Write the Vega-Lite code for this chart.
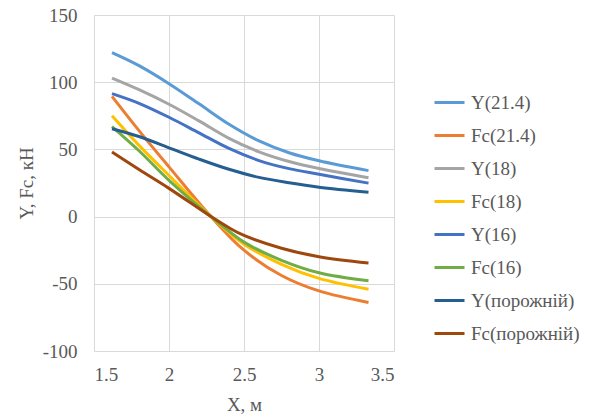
{
  "$schema": "https://vega.github.io/schema/vega-lite/v6.json",
  "width": 300,
  "height": 336,
  "autosize": {"type": "none"},
  "padding": {"left": 94, "top": 15, "right": 203, "bottom": 66},
  "background": "white",
  "config": {
    "view": {"stroke": null},
    "font": "'Liberation Serif', serif",
    "axis": {
      "domain": false,
      "ticks": false,
      "grid": true,
      "gridColor": "#d9d9d9",
      "gridWidth": 1,
      "labelFont": "'Liberation Serif', serif",
      "labelFontSize": 19,
      "labelColor": "#595959",
      "titleFont": "'Liberation Serif', serif",
      "titleFontSize": 19,
      "titleFontWeight": "normal",
      "titleColor": "#595959"
    },
    "legend": {
      "labelFont": "'Liberation Serif', serif",
      "labelFontSize": 19,
      "labelColor": "#595959"
    }
  },
  "data": {
    "values": [
      {"x": 1.62, "s": "Y(21.4)", "v": 122},
      {"x": 1.8, "s": "Y(21.4)", "v": 112.3},
      {"x": 2.0, "s": "Y(21.4)", "v": 98.9},
      {"x": 2.2, "s": "Y(21.4)", "v": 83.9},
      {"x": 2.4, "s": "Y(21.4)", "v": 68.7},
      {"x": 2.6, "s": "Y(21.4)", "v": 56.3},
      {"x": 2.8, "s": "Y(21.4)", "v": 47.5},
      {"x": 3.0, "s": "Y(21.4)", "v": 41.5},
      {"x": 3.33, "s": "Y(21.4)", "v": 34.2},

      {"x": 1.62, "s": "Fc(21.4)", "v": 89.5},
      {"x": 1.8, "s": "Fc(21.4)", "v": 64},
      {"x": 2.0, "s": "Fc(21.4)", "v": 37},
      {"x": 2.28, "s": "Fc(21.4)", "v": 0},
      {"x": 2.5, "s": "Fc(21.4)", "v": -25},
      {"x": 2.75, "s": "Fc(21.4)", "v": -43.8},
      {"x": 3.0, "s": "Fc(21.4)", "v": -55.3},
      {"x": 3.33, "s": "Fc(21.4)", "v": -63.9},

      {"x": 1.62, "s": "Y(18)", "v": 103},
      {"x": 1.8, "s": "Y(18)", "v": 94.4},
      {"x": 2.0, "s": "Y(18)", "v": 83.6},
      {"x": 2.2, "s": "Y(18)", "v": 71.2},
      {"x": 2.4, "s": "Y(18)", "v": 58.2},
      {"x": 2.6, "s": "Y(18)", "v": 48.2},
      {"x": 2.8, "s": "Y(18)", "v": 41},
      {"x": 3.0, "s": "Y(18)", "v": 35.8},
      {"x": 3.33, "s": "Y(18)", "v": 28.9},

      {"x": 1.62, "s": "Fc(18)", "v": 75},
      {"x": 1.8, "s": "Fc(18)", "v": 53},
      {"x": 2.0, "s": "Fc(18)", "v": 30.6},
      {"x": 2.28, "s": "Fc(18)", "v": 0},
      {"x": 2.5, "s": "Fc(18)", "v": -20.5},
      {"x": 2.75, "s": "Fc(18)", "v": -35.5},
      {"x": 3.0, "s": "Fc(18)", "v": -46},
      {"x": 3.33, "s": "Fc(18)", "v": -54},

      {"x": 1.62, "s": "Y(16)", "v": 91.5},
      {"x": 1.8, "s": "Y(16)", "v": 84.3},
      {"x": 2.0, "s": "Y(16)", "v": 73.9},
      {"x": 2.2, "s": "Y(16)", "v": 62.3},
      {"x": 2.4, "s": "Y(16)", "v": 50.7},
      {"x": 2.6, "s": "Y(16)", "v": 41.7},
      {"x": 2.8, "s": "Y(16)", "v": 35.7},
      {"x": 3.0, "s": "Y(16)", "v": 31.5},
      {"x": 3.33, "s": "Y(16)", "v": 24.9},

      {"x": 1.62, "s": "Fc(16)", "v": 67},
      {"x": 1.8, "s": "Fc(16)", "v": 49},
      {"x": 2.0, "s": "Fc(16)", "v": 27},
      {"x": 2.28, "s": "Fc(16)", "v": 0},
      {"x": 2.5, "s": "Fc(16)", "v": -19},
      {"x": 2.75, "s": "Fc(16)", "v": -32.5},
      {"x": 3.0, "s": "Fc(16)", "v": -41.8},
      {"x": 3.33, "s": "Fc(16)", "v": -47.8},

      {"x": 1.62, "s": "Y(порожній)", "v": 65.4},
      {"x": 1.8, "s": "Y(порожній)", "v": 59.6},
      {"x": 2.0, "s": "Y(порожній)", "v": 51.2},
      {"x": 2.2, "s": "Y(порожній)", "v": 42.8},
      {"x": 2.4, "s": "Y(порожній)", "v": 35.2},
      {"x": 2.6, "s": "Y(порожній)", "v": 29.2},
      {"x": 2.8, "s": "Y(порожній)", "v": 25.2},
      {"x": 3.0, "s": "Y(порожній)", "v": 21.9},
      {"x": 3.33, "s": "Y(порожній)", "v": 18.1},

      {"x": 1.62, "s": "Fc(порожній)", "v": 48},
      {"x": 1.8, "s": "Fc(порожній)", "v": 35},
      {"x": 2.0, "s": "Fc(порожній)", "v": 21},
      {"x": 2.28, "s": "Fc(порожній)", "v": 0},
      {"x": 2.4, "s": "Fc(порожній)", "v": -8.3},
      {"x": 2.5, "s": "Fc(порожній)", "v": -14},
      {"x": 2.75, "s": "Fc(порожній)", "v": -23.5},
      {"x": 3.0, "s": "Fc(порожній)", "v": -29.9},
      {"x": 3.33, "s": "Fc(порожній)", "v": -34.6}
    ]
  },
  "mark": {"type": "line", "interpolate": "catmull-rom", "strokeWidth": 3},
  "encoding": {
    "x": {
      "field": "x",
      "type": "quantitative",
      "scale": {"domain": [1.5, 3.5], "nice": false, "zero": false},
      "axis": {"values": [1.5, 2, 2.5, 3, 3.5], "labelExpr": "toString(datum.value)", "title": "X, м", "labelPadding": 14, "titlePadding": 11}
    },
    "y": {
      "field": "v",
      "type": "quantitative",
      "scale": {"domain": [-100, 150], "nice": false, "zero": false},
      "axis": {"values": [-100, -50, 0, 50, 100, 150], "labelExpr": "toString(datum.value)", "title": "Y, Fc, кН", "labelPadding": 17, "titlePadding": 6}
    },
    "color": {
      "field": "s",
      "type": "nominal",
      "scale": {
        "domain": ["Y(21.4)", "Fc(21.4)", "Y(18)", "Fc(18)", "Y(16)", "Fc(16)", "Y(порожній)", "Fc(порожній)"],
        "range": ["#5B9BD5", "#ED7D31", "#A5A5A5", "#FFC000", "#4472C4", "#70AD47", "#255E91", "#9E480E"]
      },
      "legend": {
        "title": null,
        "orient": "none",
        "legendX": 339,
        "legendY": 71,
        "symbolType": "stroke",
        "symbolSize": 900,
        "symbolStrokeWidth": 3,
        "labelOffset": 5,
        "rowPadding": 6
      }
    }
  }
}
